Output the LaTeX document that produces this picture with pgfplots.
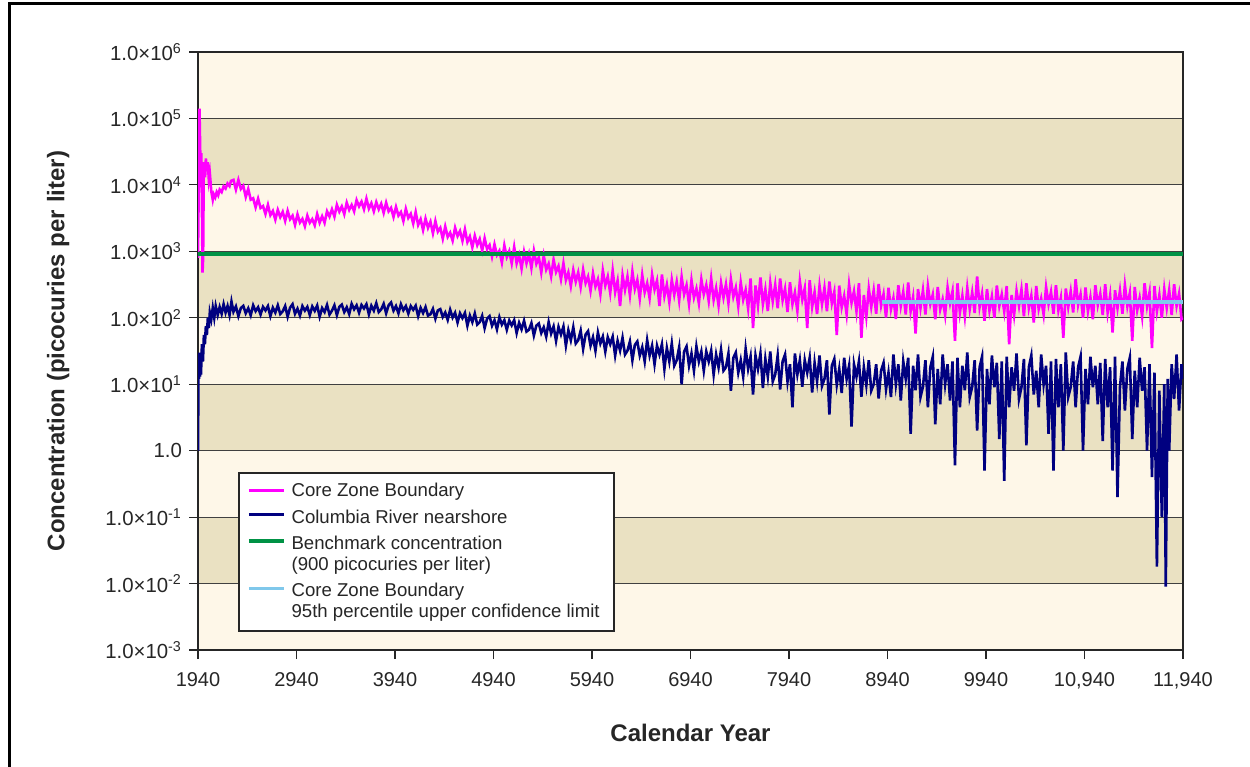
\documentclass[border=0pt]{standalone}
\usepackage{fontspec}
\setmainfont{Liberation Sans}
\usepackage{pgfplots}
\pgfplotsset{compat=1.18}

\definecolor{cream}{RGB}{254,247,232}
\definecolor{tan}{RGB}{234,225,194}
\definecolor{corezone}{RGB}{255,0,255}
\definecolor{river}{RGB}{0,0,128}
\definecolor{bench}{RGB}{0,146,69}
\definecolor{ucl}{RGB}{128,200,235}

% taller strut for the first line of a legend entry
\newcommand\firstline{\rule{0pt}{9.8pt}\strut}

\begin{document}
\begin{tikzpicture}
% page size (1 px of the reference = 0.5pt)
\path (0,0) rectangle (625pt,-383.5pt);

\begin{axis}[
    at={(99pt,-325pt)}, anchor=south west,
    scale only axis,
    width=492.5pt, height=299pt,
    set layers,
    ymode=log,
    xmin=1940, xmax=11940,
    ymin=1e-3, ymax=1e6,
    scaled x ticks=false,
    xtick={1940,2940,3940,4940,5940,6940,7940,8940,9940,10940,11940},
    xticklabels={1940,2940,3940,4940,5940,6940,7940,8940,9940,{10,940},{11,940}},
    ytick={1e-3,1e-2,1e-1,1,1e1,1e2,1e3,1e4,1e5,1e6},
    yticklabels={1.0×10\textsuperscript{-3},1.0×10\textsuperscript{-2},1.0×10\textsuperscript{-1},1.0,
      1.0×10\textsuperscript{1},1.0×10\textsuperscript{2},1.0×10\textsuperscript{3},
      1.0×10\textsuperscript{4},1.0×10\textsuperscript{5},1.0×10\textsuperscript{6}},
    yminorticks=false,
    tick align=outside,
    major tick length=4.5pt,
    tick style={black!85, line width=0.6pt},
    xtick pos=bottom, ytick pos=left,
    ymajorgrids,
    major grid style={black!75, line width=0.6pt},
    axis line style={black!85, line width=1.3pt},
    ticklabel style={font=\fontsize{10.2}{12}\selectfont, text=black!85},
    xticklabel style={font=\fontsize{10}{12}\selectfont, yshift=-3pt},
    xlabel={Calendar Year},
    ylabel={Concentration (picocuries per liter)},
    xlabel style={font=\bfseries\fontsize{12}{14}\selectfont, text=black!85,
      at={(axis description cs:0.5,-0.139)}, anchor=center},
    ylabel style={font=\bfseries\fontsize{12}{14}\selectfont, text=black!85,
      at={(axis description cs:-0.142,0.5)}, anchor=center},
    legend style={at={(rel axis cs:0.041,0.298)}, anchor=north west,
      draw=black!85, line width=1pt, fill=white,
      font=\fontsize{9.3}{9.75}\selectfont, text=black!85,
      inner xsep=4pt, inner ysep=5pt, row sep=2pt,
      nodes={inner ysep=0pt, inner xsep=3pt}},
    legend cell align=left,
    legend image code/.code={\draw[#1, line width=1.6pt] (0pt,0.2pt) -- (17.5pt,0.2pt);},
    band/.style={draw=none, forget plot, on layer=axis background},
]

% alternating background bands
\addplot[band, fill=cream] coordinates {(1940,1e5) (11940,1e5) (11940,1e6) (1940,1e6)};
\addplot[band, fill=tan] coordinates {(1940,1e4) (11940,1e4) (11940,1e5) (1940,1e5)};
\addplot[band, fill=cream] coordinates {(1940,1e3) (11940,1e3) (11940,1e4) (1940,1e4)};
\addplot[band, fill=tan] coordinates {(1940,1e2) (11940,1e2) (11940,1e3) (1940,1e3)};
\addplot[band, fill=cream] coordinates {(1940,1e1) (11940,1e1) (11940,1e2) (1940,1e2)};
\addplot[band, fill=tan] coordinates {(1940,1) (11940,1) (11940,1e1) (1940,1e1)};
\addplot[band, fill=cream] coordinates {(1940,1e-1) (11940,1e-1) (11940,1) (1940,1)};
\addplot[band, fill=tan] coordinates {(1940,1e-2) (11940,1e-2) (11940,1e-1) (1940,1e-1)};
\addplot[band, fill=cream] coordinates {(1940,1e-3) (11940,1e-3) (11940,1e-2) (1940,1e-2)};

% Columbia River nearshore
\addplot[river, line width=1.3pt, forget plot] coordinates {
(1940,1.0) (1945,20) (1950,12) (1955,30) (1960,13) (1965,25) (1970,14) (1980,40) (1990,22)
(2000,55) (2010,40) (2020,75) (2030,55) (2040,100) (2050,70) (2060,120) (2075,95) (2090,140)
(2105,100) (2120,150) (2140,110) (2160,145) (2180,115) (2200,160) (2220,120) (2240,150)
(2260,110) (2280,175)
(2300,123) (2325,148) (2350,106) (2375,140) (2400,151) (2425,117) (2450,139) (2475,109)
(2500,154) (2525,126) (2550,144) (2575,112) (2600,146) (2625,129) (2650,150) (2675,106)
(2700,142) (2725,120) (2750,154) (2775,114)
(2800,125) (2825,150) (2850,104) (2875,142) (2900,160) (2925,115) (2950,137) (2975,108)
(3000,150) (3025,128) (3050,146) (3075,110) (3100,148) (3125,127) (3150,153) (3175,104)
(3200,140) (3225,122) (3250,156) (3275,112)
(3300,128) (3325,154) (3350,110) (3375,146) (3400,158) (3425,122) (3450,144) (3475,114)
(3500,162) (3525,134) (3550,154) (3575,119) (3600,156) (3625,138) (3650,160) (3675,113)
(3700,152) (3725,128) (3750,166) (3775,122)
(3800,134) (3825,162) (3850,117) (3875,154) (3900,170) (3925,128) (3950,150) (3975,117)
(4000,160) (4025,130) (4050,150) (4075,116) (4100,150) (4125,132) (4150,152) (4175,106)
(4200,141) (4225,118) (4250,145) (4275,108)
(4300,113) (4325,136) (4350,97) (4375,129) (4400,135) (4425,103) (4450,120) (4475,93)
(4500,132) (4525,101) (4550,119) (4575,85) (4600,117) (4625,99) (4650,118) (4675,76)
(4700,108) (4725,86) (4750,116) (4775,79) (4800,86) (4825,107) (4850,70) (4875,97)
(4900,106) (4925,76) (4950,92) (4975,67)
(5000,102) (5025,79) (5050,92) (5075,66) (5100,91) (5125,77) (5150,92) (5175,59)
(5200,84) (5225,67) (5250,90) (5275,62) (5300,66) (5325,83) (5350,54) (5375,76)
(5400,82) (5425,59) (5450,72) (5475,52)
(5500,86) (5525,58) (5550,74) (5575,45) (5600,73) (5625,56) (5650,74) (5675,38)
(5700,65) (5725,46) (5750,72) (5775,41) (5800,46) (5825,64) (5850,34) (5875,56)
(5900,63) (5925,38) (5950,51) (5975,32)
(6000,60) (6025,41) (6050,52) (6075,31) (6100,51) (6125,40) (6150,52) (6175,27)
(6200,45) (6225,32) (6250,50) (6275,28) (6300,32) (6325,44) (6350,23) (6375,39)
(6400,44) (6425,27) (6450,36) (6475,22)
(6500,46) (6525,27) (6550,38) (6575,20) (6600,38) (6625,28) (6650,40) (6675,17)
(6700,35) (6725,22) (6750,41) (6775,19) (6800,23) (6825,36) (6850,10) (6875,31)
(6900,37) (6925,19) (6950,29) (6975,16)
(7000,37) (7025,22) (7050,31) (7075,16) (7100,31) (7125,22) (7150,32) (7175,14)
(7200,28) (7225,18) (7250,33) (7275,16) (7300,18) (7325,29) (7350,8) (7375,25)
(7400,30) (7425,15) (7450,23) (7475,13)
(7500,34) (7525,17) (7550,26) (7575,7) (7600,27) (7625,17) (7650,29) (7675,8.8)
(7700,24) (7725,13) (7750,31) (7775,11) (7800,14) (7825,27) (7850,8.3) (7875,22)
(7900,28) (7925,11) (7950,20) (7975,4.5)
(8000,29) (8025,14) (8050,23) (8075,9.2) (8100,23) (8125,15) (8150,25) (8175,7.5)
(8200,21) (8225,11) (8250,27) (8275,9.4) (8300,12) (8325,23) (8350,3.5) (8375,19)
(8400,24) (8425,9.8) (8450,17) (8475,7.4)
(8500,25) (8525,12) (8550,19) (8575,2.3) (8600,20) (8625,13) (8650,22) (8675,6.5)
(8700,18) (8725,9.7) (8750,23) (8775,8) (8800,10) (8825,20) (8850,6.1) (8875,16)
(8900,21) (8925,8.4) (8950,15) (8975,6.4)
(9000,28) (9025,10) (9050,20) (9075,5.7) (9100,22) (9125,12) (9150,25) (9175,1.8)
(9200,19) (9225,8.1) (9250,28) (9275,6.4) (9300,9.2) (9325,23) (9350,4.5) (9375,18)
(9400,26) (9425,2.5) (9450,17) (9475,5.0)
(9500,28) (9525,10) (9550,20) (9575,5.7) (9600,22) (9625,0.6) (9650,25) (9675,4.5)
(9700,19) (9725,8.1) (9750,30) (9775,6.4) (9800,9.2) (9825,23) (9850,2.0) (9875,18)
(9900,26) (9925,0.5) (9950,17) (9975,5.0)
(10000,27) (10025,9) (10050,21) (10075,1.5) (10100,22) (10125,0.35) (10150,26) (10175,4.5)
(10200,18) (10225,8) (10250,29) (10275,6) (10300,9) (10325,24) (10350,1.2) (10375,18)
(10400,27) (10425,7) (10450,16) (10475,4.5)
(10500,28) (10525,10) (10550,19) (10575,1.8) (10600,22) (10625,0.5) (10650,24) (10675,4.5)
(10700,20) (10725,1.0) (10750,30) (10775,6.4) (10800,9) (10825,22) (10850,4.5) (10875,18)
(10900,26) (10925,1.0) (10950,17) (10975,5)
(11000,26) (11025,9) (11050,19) (11075,5) (11100,21) (11125,1.4) (11150,24) (11175,4.5)
(11200,18) (11225,0.5) (11250,26) (11275,0.2) (11300,9) (11325,22) (11350,4) (11375,17)
(11400,25) (11425,1.5) (11450,16) (11475,4.5)
(11500,25) (11525,8) (11550,18) (11575,1.0) (11600,20) (11625,0.4) (11650,15) (11675,0.018)
(11700,8) (11725,0.1) (11750,10) (11765,0.009) (11785,12) (11800,1.0) (11825,20) (11850,6)
(11875,28) (11900,4) (11925,20) (11940,12)
};

% Core Zone Boundary
\addplot[corezone, line width=1.3pt] coordinates {
(1940,800) (1955,1.4e5) (1962,3.5e4) (1968,1.2e4) (1974,3e4) (1980,5e3) (1986,480) (1992,800)
(1998,1.5e4) (2005,2.2e4) (2012,1.3e4) (2020,2.5e4) (2030,1.6e4) (2040,2.2e4) (2050,1.2e4)
(2060,1.5e4) (2075,8e3) (2090,6e3) (2100,7.2e3) (2115,6.5e3) (2130,7.8e3) (2145,7e3)
(2160,8.5e3) (2180,7.8e3) (2200,9.5e3) (2220,8.8e3) (2240,1.05e4) (2260,9.6e3) (2275,1.15e4)
(2300,1.19e4) (2325,8.5e3) (2350,1.19e4) (2375,8.7e3) (2400,9.7e3) (2425,6.6e3) (2450,8.7e3)
(2475,6.0e3) (2500,6.3e3) (2525,4.6e3) (2550,6.2e3) (2575,4.5e3) (2600,4.8e3) (2625,3.65e3)
(2650,5.0e3) (2675,3.5e3) (2700,4.05e3) (2725,3.0e3) (2750,4.2e3) (2775,3.27e3)
(2800,3.93e3) (2825,2.87e3) (2850,4.07e3) (2875,3.04e3) (2900,3.44e3) (2925,2.5e3)
(2950,3.6e3) (2975,2.71e3) (3000,3.08e3) (3025,2.39e3) (3050,3.44e3) (3075,2.69e3)
(3100,3.05e3) (3125,2.47e3) (3150,3.63e3) (3175,2.7e3) (3200,3.37e3) (3225,2.69e3)
(3250,4.0e3) (3275,3.34e3)
(3300,4.3e3) (3325,3.33e3) (3350,5.0e3) (3375,3.96e3) (3400,4.74e3) (3425,3.63e3)
(3450,5.4e3) (3475,4.2e3) (3500,4.99e3) (3525,4.0e3) (3550,5.9e3) (3575,4.75e3)
(3600,5.6e3) (3625,4.3e3) (3650,6.2e3) (3675,4.4e3) (3700,5.3e3) (3725,4.0e3)
(3750,5.5e3) (3775,4.3e3)
(3800,5.2e3) (3825,3.8e3) (3850,5.4e3) (3875,4.0e3) (3900,4.5e3) (3925,3.3e3)
(3950,4.65e3) (3975,3.45e3) (4000,3.9e3) (4025,2.86e3) (4050,4.35e3) (4075,3.18e3)
(4100,3.67e3) (4125,2.62e3) (4150,3.9e3) (4175,2.5e3) (4200,3.04e3) (4225,2.09e3)
(4250,3.1e3) (4275,2.26e3)
(4300,2.79e3) (4325,1.87e3) (4350,2.85e3) (4375,1.98e3) (4400,2.26e3) (4425,1.55e3)
(4450,2.36e3) (4475,1.65e3) (4500,1.91e3) (4525,1.45e3) (4550,2.26e3) (4575,1.7e3)
(4600,2.02e3) (4625,1.44e3) (4650,2.14e3) (4675,1.38e3) (4700,1.67e3) (4725,1.15e3)
(4750,1.71e3) (4775,1.24e3)
(4800,1.53e3) (4825,1.03e3) (4850,1.57e3) (4875,1.08e3) (4900,1.24e3) (4925,830)
(4950,1.27e3) (4975,880) (5000,1.02e3) (5025,680) (5050,1.23e3) (5075,820)
(5100,1.01e3) (5125,660) (5150,1.16e3) (5175,660) (5200,880) (5225,550)
(5250,980) (5275,660)
(5300,910) (5325,560) (5350,1.02e3) (5375,650) (5400,810) (5425,480) (5450,860) (5475,530)
(5500,650) (5525,420) (5550,750) (5575,490) (5600,600) (5625,380) (5650,660) (5675,370)
(5700,480) (5725,300) (5750,525) (5775,350)
(5800,480) (5825,290) (5850,530) (5875,333) (5900,417) (5925,254) (5950,468) (5975,295)
(6000,380) (6025,226) (6050,513) (6075,305) (6100,417) (6125,237) (6150,513) (6175,243)
(6200,363) (6225,150) (6250,437) (6275,263)
(6300,417) (6325,218) (6350,495) (6375,271) (6400,372) (6425,194) (6450,442) (6475,242)
(6500,331) (6525,197) (6550,447) (6575,266) (6600,363) (6625,150) (6650,447) (6675,211)
(6700,316) (6725,172) (6750,372) (6775,221)
(6800,347) (6825,181) (6850,412) (6875,225) (6900,309) (6925,161) (6950,367) (6975,201)
(7000,275) (7025,165) (7050,378) (7075,226) (7100,312) (7125,179) (7150,389) (7175,186)
(7200,281) (7225,153) (7250,335) (7275,201)
(7300,318) (7325,166) (7350,379) (7375,207) (7400,286) (7425,149) (7450,341) (7475,187)
(7500,263) (7525,139) (7550,390) (7575,70) (7600,307) (7625,153) (7650,405) (7675,161)
(7700,269) (7725,126) (7750,335) (7775,177)
(7800,313) (7825,139) (7850,391) (7875,184) (7900,274) (7925,122) (7950,342) (7975,161)
(8000,240) (8025,127) (8050,355) (8075,187) (8100,279) (8125,70) (8150,367) (8175,146)
(8200,243) (8225,114) (8250,302) (8275,160)
(8300,282) (8325,125) (8350,351) (8375,165) (8400,245) (8425,55) (8450,305) (8475,144)
(8500,214) (8525,113) (8550,318) (8575,168) (8600,251) (8625,125) (8650,331) (8675,50)
(8700,220) (8725,104) (8750,275) (8775,146)
(8800,258) (8825,115) (8850,323) (8875,152) (8900,227) (8925,101) (8950,284) (8975,134)
(9000,200) (9025,96) (9050,310) (9075,150) (9100,245) (9125,112) (9150,340) (9175,126)
(9200,205) (9225,58) (9250,270) (9275,141) (9300,260) (9325,112) (9350,300) (9375,160)
(9400,224) (9425,95) (9450,290) (9475,133)
(9500,190) (9525,110) (9550,285) (9575,165) (9600,250) (9625,45) (9650,330) (9675,120)
(9700,215) (9725,105) (9750,280) (9775,135) (9800,240) (9825,118) (9850,420) (9875,145)
(9900,230) (9925,90) (9950,270) (9975,128)
(10000,210) (10025,100) (10050,305) (10075,150) (10100,225) (10125,125) (10150,300) (10175,40)
(10200,220) (10225,110) (10250,255) (10275,150) (10300,265) (10325,105) (10350,330) (10375,140)
(10400,215) (10425,85) (10450,300) (10475,135)
(10500,195) (10525,112) (10550,290) (10575,160) (10600,245) (10625,115) (10650,310) (10675,130)
(10700,200) (10725,50) (10750,275) (10775,145) (10800,250) (10825,120) (10850,380) (10875,155)
(10900,225) (10925,100) (10950,285) (10975,125)
(11000,205) (11025,95) (11050,310) (11075,155) (11100,230) (11125,110) (11150,320) (11175,120)
(11200,215) (11225,60) (11250,260) (11275,140) (11300,255) (11325,115) (11350,310) (11375,150)
(11400,235) (11425,45) (11450,290) (11475,130)
(11500,200) (11525,105) (11550,330) (11575,150) (11600,240) (11625,35) (11650,300) (11675,125)
(11700,220) (11725,100) (11750,270) (11775,140) (11800,260) (11825,110) (11850,320) (11875,150)
(11900,230) (11925,95) (11940,100)
};
\addlegendentry{\strut Core Zone Boundary}

\addlegendimage{river, line width=1.3pt}
\addlegendentry{\firstline Columbia River nearshore}

% benchmark concentration
\addplot[bench, line width=2pt] coordinates {(1940,900) (11940,900)};
\addlegendentry{\firstline Benchmark concentration}
\addlegendimage{empty legend}
\addlegendentry{\strut(900 picocuries per liter)}

% 95th percentile UCL
\addplot[ucl, line width=2pt] coordinates {(8884,170) (11940,170)};
\addlegendentry{\firstline Core Zone Boundary}
\addlegendimage{empty legend}
\addlegendentry{\strut 95th percentile upper confidence limit}

\end{axis}

% outer frame
\draw[overlay, black, line width=1.5pt] (4.5pt,-383.5pt) -- (4.5pt,-1.75pt) -- (625pt,-1.75pt);
\end{tikzpicture}
\end{document}
